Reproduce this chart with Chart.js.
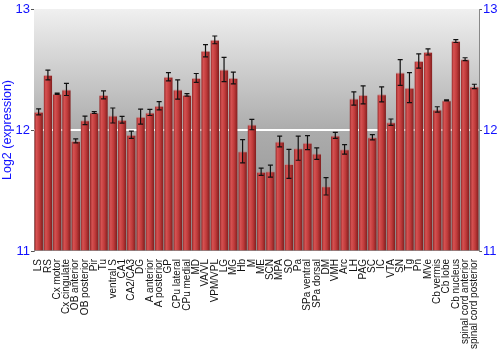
<!DOCTYPE html>
<html>
<head>
<meta charset="utf-8">
<script src="https://cdn.jsdelivr.net/npm/chart.js@4"></script>
<style>
  html, body { margin: 0; padding: 0; background: #fff; }
  #wrap { width: 500px; height: 350px; }
</style>
</head>
<body>
<div id="wrap"><canvas id="chart"></canvas></div>
<script>
// regions (x categories)
var regions = ["LS", "RS", "Cx motor", "Cx cingulate", "OB anterior", "OB posterior", "Pir", "Tu",
  "ventral S", "CA1", "CA2/CA3", "DG", "A anterior", "A posterior", "GP", "CPu lateral", "CPu medial",
  "MD", "VA/VL", "VPM/VPL", "LG", "MG", "Hb", "M", "ME", "SCN", "MPA", "SO", "Pa", "SPa ventral",
  "SPa dorsal", "DM", "VMH", "Arc", "LH", "PAG", "SC", "IC", "VTA", "SN", "Tg", "Pn", "MVe",
  "Cb vermis", "Cb lobe", "Cb nucleus", "spinal cord anterior", "spinal cord posterior"];

// mean log2 expression
var expression = [12.15, 12.455, 12.30, 12.335, 11.91, 12.08, 12.145, 12.29,
  12.12, 12.085, 11.96, 12.11, 12.145, 12.20, 12.44, 12.335, 12.29,
  12.43, 12.655, 12.745, 12.50, 12.43, 11.825, 12.045, 11.655, 11.66, 11.905, 11.72, 11.85, 11.895,
  11.805, 11.535, 11.955, 11.84, 12.26, 12.29, 11.94, 12.295, 12.065, 12.475, 12.35, 12.57, 12.645,
  12.17, 12.245, 12.735, 12.585, 12.36];

// error (+/-)
var errors = [0.025, 0.04, 0.005, 0.05, 0.017, 0.035, 0.008, 0.033,
  0.062, 0.028, 0.03, 0.062, 0.025, 0.034, 0.034, 0.08, 0.01,
  0.037, 0.05, 0.032, 0.10, 0.048, 0.096, 0.043, 0.03, 0.05, 0.045, 0.12, 0.10, 0.058,
  0.047, 0.072, 0.025, 0.039, 0.055, 0.074, 0.022, 0.062, 0.026, 0.107, 0.124, 0.059, 0.025,
  0.022, 0.004, 0.012, 0.012, 0.018];

var yTicks = [11, 12, 13];
var blue = "#1010ff";
var fontFamily = "'Liberation Sans', Arial, sans-serif";

// gray gradient behind the plot
var backgroundPlugin = {
  id: "plotBackground",
  beforeDatasetsDraw: function(chart) {
    var a = chart.chartArea, c = chart.ctx;
    var g = c.createLinearGradient(0, a.top, 0, a.bottom);
    g.addColorStop(0, "#f0f0f0");
    g.addColorStop(0.5, "#acacac");
    g.addColorStop(1, "#8c8c8c");
    c.save();
    c.fillStyle = g;
    c.fillRect(a.left, a.top, a.right - a.left, a.bottom - a.top);
    // white line at 12
    var y12 = chart.scales.y.getPixelForValue(12);
    c.strokeStyle = "#ffffff";
    c.lineWidth = 2;
    c.beginPath();
    c.moveTo(a.left, y12);
    c.lineTo(a.right, y12);
    c.stroke();
    c.restore();
  }
};

// error bars drawn from the scales
var errorBarPlugin = {
  id: "errorBars",
  afterDatasetsDraw: function(chart) {
    var c = chart.ctx, xs = chart.scales.x, ys = chart.scales.y;
    c.save();
    c.strokeStyle = "#111";
    c.lineWidth = 1.2;
    for (var i = 0; i < expression.length; i++) {
      var x = xs.getPixelForValue(i);
      var top = ys.getPixelForValue(expression[i] + errors[i]);
      var bot = ys.getPixelForValue(expression[i] - errors[i]);
      c.beginPath();
      c.moveTo(x, top); c.lineTo(x, bot);
      c.moveTo(x - 2.5, top); c.lineTo(x + 2.5, top);
      c.moveTo(x - 2.5, bot); c.lineTo(x + 2.5, bot);
      c.stroke();
    }
    c.restore();
  }
};

function barFill(ctx) {
  var chart = ctx.chart;
  var xs = chart.scales.x;
  if (!xs || xs.width === undefined || ctx.dataIndex === undefined) return "#bd3838";
  var cx = xs.getPixelForValue(ctx.dataIndex);
  var w = xs.width / regions.length * 0.93;
  var g = chart.ctx.createLinearGradient(cx - w / 2, 0, cx + w / 2, 0);
  g.addColorStop(0, "#922626");
  g.addColorStop(0.25, "#d65252");
  g.addColorStop(0.6, "#bf3a3a");
  g.addColorStop(1, "#7e1d1d");
  return g;
}

new Chart(document.getElementById("chart"), {
  type: "bar",
  data: {
    labels: regions,
    datasets: [{
      data: expression,
      backgroundColor: barFill,
      borderColor: "rgba(190,130,130,0.7)",
      borderWidth: { top: 1, left: 0, right: 0, bottom: 0 },
      borderSkipped: "bottom",
      categoryPercentage: 1,
      barPercentage: 0.93,
      base: 11
    }]
  },
  options: {
    responsive: true,
    maintainAspectRatio: false,
    animation: false,
    layout: { padding: { top: 9, left: 0, right: 0, bottom: 0 } },
    plugins: {
      legend: { display: false },
      tooltip: { enabled: false }
    },
    scales: {
      x: {
        grid: { display: false },
        border: { display: false },
        ticks: {
          autoSkip: false,
          maxRotation: 90,
          minRotation: 90,
          padding: 0,
          color: "#111",
          font: { family: fontFamily, size: 10 }
        },
        afterFit: function(scale) { scale.height = 99; }
      },
      y: {
        position: "left",
        min: 11,
        max: 13,
        afterBuildTicks: function(scale) {
          scale.ticks = yTicks.map(function(v) { return { value: v }; });
        },
        grid: {
          color: function(ctx) {
            return ctx.tick && ctx.tick.value === 13 ? "#888" : "rgba(0,0,0,0)";
          },
          tickColor: "#555",
          tickLength: 3
        },
        border: { color: "#888" },
        ticks: {
          color: blue,
          padding: 1,
          font: { family: fontFamily, size: 13 }
        },
        title: {
          display: true,
          text: "Log2 (expression)",
          color: blue,
          padding: { top: 0, bottom: 2 },
          font: { family: fontFamily, size: 12.5 }
        },
        afterFit: function(scale) { scale.width = 34; }
      },
      y2: {
        position: "right",
        min: 11,
        max: 13,
        afterBuildTicks: function(scale) {
          scale.ticks = yTicks.map(function(v) { return { value: v }; });
        },
        grid: { drawOnChartArea: false, tickColor: "#555", tickLength: 3 },
        border: { color: "#888" },
        ticks: {
          color: blue,
          padding: 1,
          font: { family: fontFamily, size: 13 }
        },
        afterFit: function(scale) { scale.width = 21; }
      }
    }
  },
  plugins: [backgroundPlugin, errorBarPlugin]
});
</script>
</body>
</html>
